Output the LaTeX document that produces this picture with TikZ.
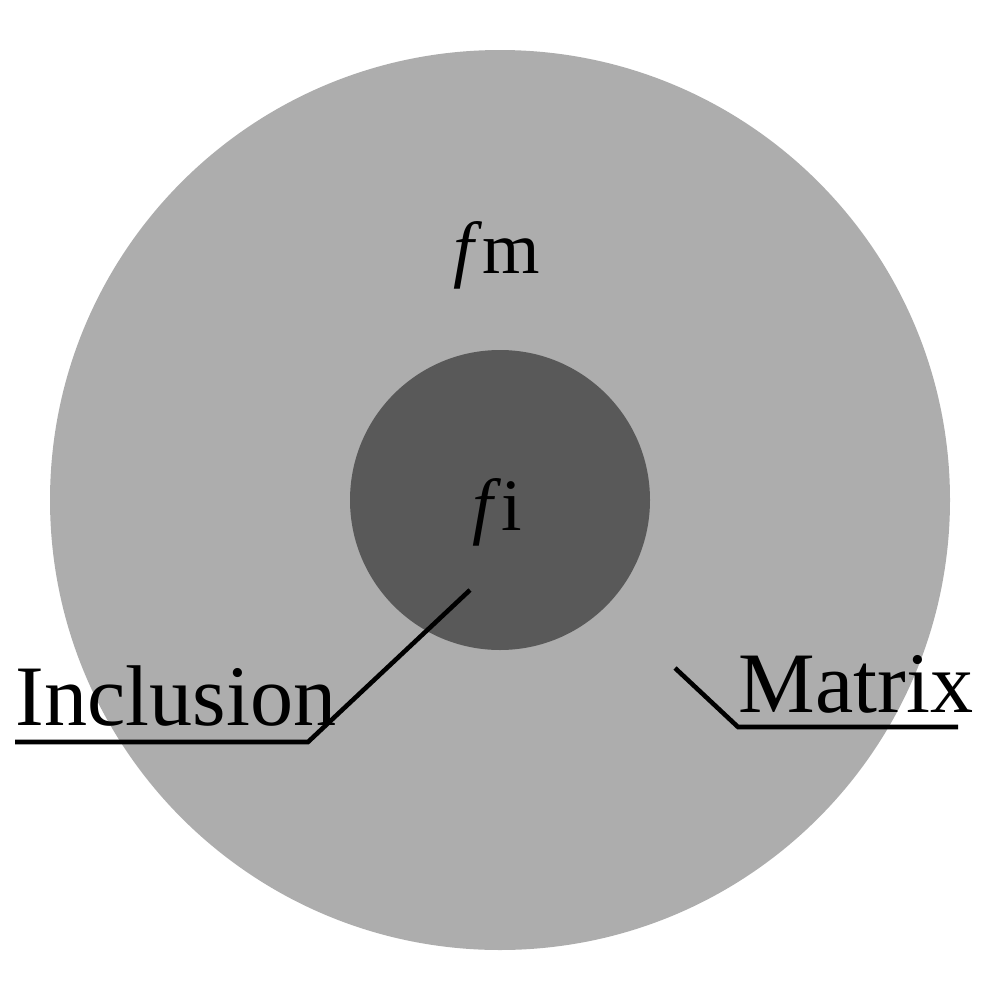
\documentclass[tikz,border=0pt]{standalone}
\usepackage{fontspec}
\setmainfont{Liberation Serif}
\definecolor{matrixgray}{HTML}{ADADAD}
\definecolor{inclgray}{HTML}{595959}
\begin{document}
\begin{tikzpicture}[x=0.01cm,y=-0.01cm]
	\tikzstyle{phase}=[font=\fontsize{21}{24}\selectfont]
	\tikzstyle{caption}=[font=\fontsize{24.5}{28}\selectfont,inner sep=0pt,anchor=base west]
	\tikzstyle{leader}=[line width=1.3pt]
	\useasboundingbox (0,0) rectangle (1000,1000);
	
	\fill [matrixgray] (500,500) circle (450);
	\fill [inclgray] (500,500) circle (150);
	\node [phase] (fm) at (497,255) {\textit{f}m};
	\node [phase] (fi) at (497,512) {\textit{f}i};
	\node [caption] (incl) at (15,725) {Inclusion};
	\node [caption] (mat) at (738,712) {Matrix};
	\coordinate (inclpt) at (470,590);
	\coordinate (inclknee) at (308,742);
	\coordinate (inclend) at (15,742);
	\coordinate (matpt) at (675,668);
	\coordinate (matknee) at (738,727);
	\coordinate (matend) at (958,727);
	\draw [leader] (inclpt) -- (inclknee) -- (inclend);
	\draw [leader] (matpt) -- (matknee) -- (matend);
\end{tikzpicture}
\end{document}
